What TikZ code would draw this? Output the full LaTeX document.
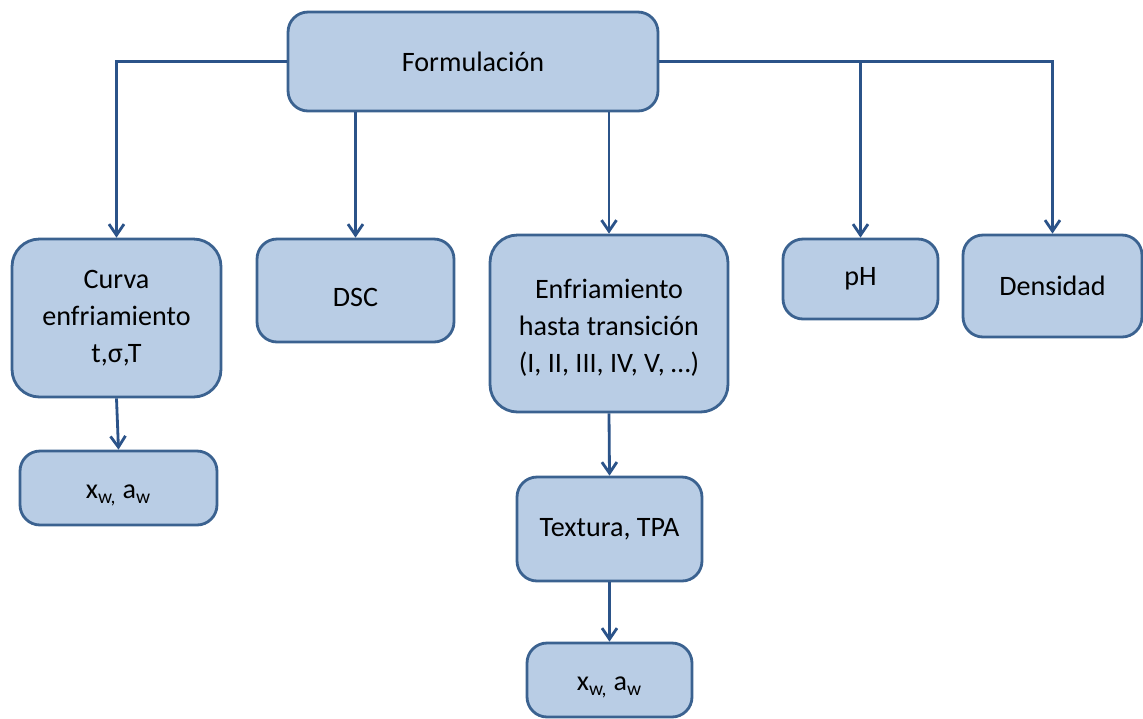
\documentclass[tikz,border=0pt]{standalone}
\usepackage{fontspec}
\setmainfont{Carlito}
\usepackage{tikz}
\usetikzlibrary{arrows.meta}
\definecolor{cajafondo}{HTML}{B9CDE5}
\definecolor{cajaborde}{HTML}{3B6290}
\definecolor{lineaazul}{HTML}{2B5389}

\begin{document}
\begin{tikzpicture}[x=0.02cm, y=-0.02cm,
  caja/.style={draw=cajaborde, fill=cajafondo, line width=1.6pt, rounded corners=0.4cm,
    align=center, inner sep=0pt, font=\fontsize{16}{21}\selectfont},
  flecha/.style={draw=lineaazul, line width=1.6pt, -{Straight Barb[length=0.22cm, width=0.3cm]}}]
\useasboundingbox (0,0) rectangle (1143,718);

\node [caja, minimum width=7.4cm, minimum height=1.98cm] (formulacion) at (473,61.5) {Formulación};

\node [caja, minimum width=4.18cm, minimum height=3.16cm, rounded corners=0.55cm] (curva) at (116.5,318) {Curva\\enfriamiento\\t,σ,T};
\node [caja, minimum width=3.94cm, minimum height=2.06cm, text height=18pt, text depth=0pt] (dsc) at (355.5,290.5) {DSC};
\node [caja, minimum width=4.76cm, minimum height=3.54cm, rounded corners=0.55cm, text height=56pt, text depth=0pt] (enfriamiento) at (609,323.5) {Enfriamiento\\hasta transición\\(I, II, III, IV, V, …)};
\node [caja, minimum width=3.1cm, minimum height=1.6cm] (ph) at (860.5,279) {pH};
\node [caja, minimum width=3.58cm, minimum height=2.04cm] (densidad) at (1052.5,286) {Densidad};

\node [caja, minimum width=3.94cm, minimum height=1.48cm, text height=12pt, text depth=0pt] (xwaw1) at (118.5,488) {x\textsubscript{w,} a\textsubscript{w}};
\node [caja, minimum width=3.7cm, minimum height=2.08cm] (textura) at (609.5,529) {Textura, TPA};
\node [caja, minimum width=3.3cm, minimum height=1.48cm, text height=12pt, text depth=0pt] (xwaw2) at (609.5,680) {x\textsubscript{w,} a\textsubscript{w}};

% ramas desde Formulacion
\coordinate (rama) at (formulacion.east -| ph.north);
\draw [flecha] (formulacion.west) -| (curva.north);
\draw [flecha] (formulacion.east) -| (densidad.north);
\draw [flecha] (rama) -- (ph.north);
\draw [flecha] (formulacion.south -| dsc.north) -- (dsc.north);
\draw [flecha] (formulacion.south -| enfriamiento.north) -- (enfriamiento.north);

\draw [flecha] (curva.south) -- (xwaw1.north);
\draw [flecha] (enfriamiento.south) -- (textura.north);
\draw [flecha] (textura.south) -- (xwaw2.north);
\end{tikzpicture}
\end{document}
